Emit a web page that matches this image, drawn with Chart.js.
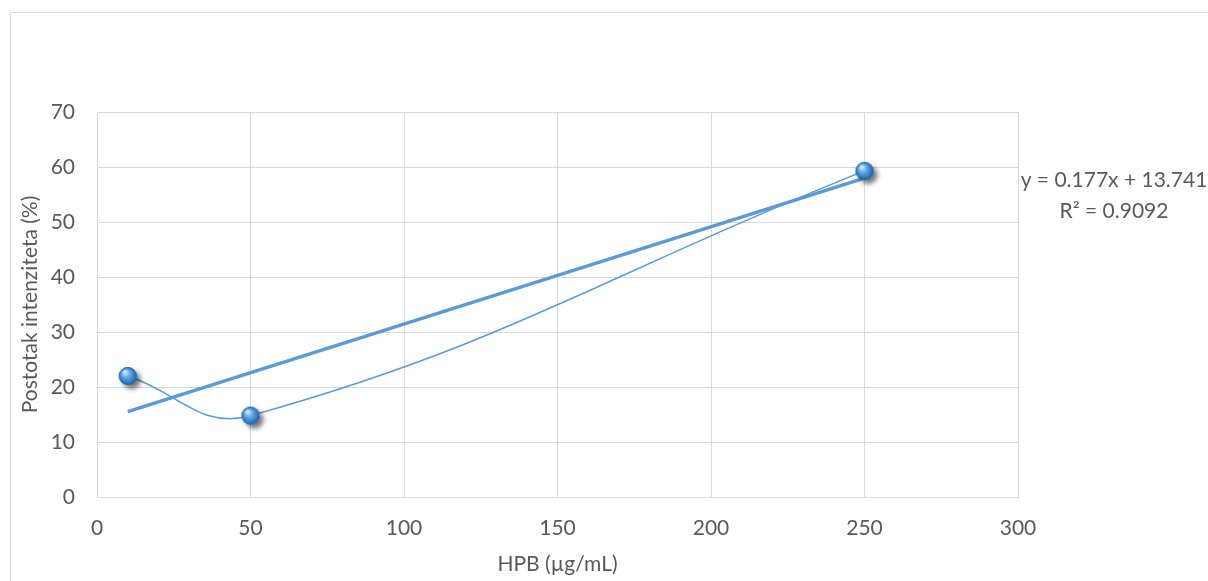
<!DOCTYPE html>
<html>
<head>
<meta charset="utf-8">
<script src="https://cdn.jsdelivr.net/npm/chart.js@4"></script>
<style>
  html, body { margin: 0; padding: 0; background: #fff; }
  #wrap { width: 1208px; height: 581px; position: relative; }
</style>
</head>
<body>
<div id="wrap"><canvas id="chart"></canvas></div>
<script>
// data
const doses = [10, 50, 250];          // HPB (µg/mL)
const intensity = [22, 14.8, 59.3];   // Postotak intenziteta (%)
const xTicks = [0, 50, 100, 150, 200, 250, 300];
const yTicks = [0, 10, 20, 30, 40, 50, 60, 70];

// linear trendline as printed on the chart
const slope = 0.177;
const intercept = 13.741;
const rSquared = 0.9092;
const trendX = [doses[0], doses[doses.length - 1]];

const blue = "#5B9BD5";
const textColor = "#595959";
const gridColor = "#D9D9D9";
const fontFamily = "Lato, 'Open Sans', sans-serif";

const seriesPoints = doses.map((x, i) => ({ x, y: intensity[i] }));
const trendPoints = trendX.map(x => ({ x, y: slope * x + intercept }));

// shaded sphere marker with a drop shadow
function makeMarker() {
  const c = document.createElement("canvas");
  c.width = 44; c.height = 44;
  const g = c.getContext("2d");
  const cx = 22, cy = 22, r = 9;
  g.save();
  g.shadowColor = "rgba(0,0,0,0.55)";
  g.shadowBlur = 5;
  g.shadowOffsetX = 4;
  g.shadowOffsetY = 4;
  g.beginPath();
  g.arc(cx, cy, r, 0, Math.PI * 2);
  g.fillStyle = "#2E75B6";
  g.fill();
  g.restore();
  const grad = g.createRadialGradient(cx - 3, cy - 4, 1, cx, cy, r);
  grad.addColorStop(0, "#CFE6FA");
  grad.addColorStop(0.35, "#6BAEE8");
  grad.addColorStop(0.8, "#2F7BC4");
  grad.addColorStop(1, "#1F5F9E");
  g.beginPath();
  g.arc(cx, cy, r, 0, Math.PI * 2);
  g.fillStyle = grad;
  g.fill();
  return c;
}
const marker = makeMarker();

const frame = {
  id: "frame",
  beforeDraw(chart) {
    const ctx = chart.ctx;
    ctx.save();
    ctx.fillStyle = "#fff";
    ctx.fillRect(0, 0, chart.width, chart.height);
    ctx.strokeStyle = gridColor;
    ctx.lineWidth = 1;
    ctx.strokeRect(10.5, 12.5, chart.width + 20, chart.height + 20);
    ctx.restore();
  }
};

const equation = {
  id: "equation",
  afterDatasetsDraw(chart) {
    const ctx = chart.ctx;
    const ys = chart.scales.y;
    const xPos = chart.chartArea.right + 96;
    const yPos = ys.getPixelForValue(trendPoints[1].y) + 2;
    ctx.save();
    ctx.fillStyle = textColor;
    ctx.font = "21px " + fontFamily;
    ctx.textAlign = "center";
    ctx.textBaseline = "middle";
    ctx.fillText("y = " + slope + "x + " + intercept, xPos, yPos);
    ctx.fillText("R² = " + rSquared, xPos, yPos + 31);
    ctx.restore();
  }
};

new Chart(document.getElementById("chart").getContext("2d"), {
  type: "scatter",
  data: {
    datasets: [
      {
        label: "points",
        data: seriesPoints,
        showLine: false,
        pointStyle: marker,
        order: 0
      },
      {
        label: "trend",
        data: trendPoints,
        showLine: true,
        borderColor: blue,
        borderWidth: 3.5,
        pointRadius: 0,
        order: 1
      },
      {
        label: "series",
        data: seriesPoints,
        showLine: true,
        borderColor: blue,
        borderWidth: 1.5,
        tension: 0.42,
        pointRadius: 0,
        order: 2
      }
    ]
  },
  options: {
    responsive: true,
    maintainAspectRatio: false,
    animation: false,
    layout: { padding: { left: 0, top: 112, right: 190, bottom: 0 } },
    plugins: {
      legend: { display: false },
      tooltip: { enabled: false }
    },
    scales: {
      x: {
        type: "linear",
        min: xTicks[0],
        max: xTicks[xTicks.length - 1],
        afterBuildTicks: s => { s.ticks = xTicks.map(v => ({ value: v })); },
        afterFit: s => { s.height = 84; },
        grid: { color: gridColor, drawTicks: false },
        border: { color: gridColor },
        ticks: { color: textColor, font: { family: fontFamily, size: 21 }, padding: 19 },
        title: {
          display: true,
          text: "HPB (µg/mL)",
          color: textColor,
          font: { family: fontFamily, size: 21 },
          padding: { top: 2 }
        }
      },
      y: {
        min: yTicks[0],
        max: yTicks[yTicks.length - 1],
        afterBuildTicks: s => { s.ticks = yTicks.map(v => ({ value: v })); },
        afterFit: s => { s.width = 97; },
        grid: { color: gridColor, drawTicks: false },
        border: { color: gridColor },
        ticks: { color: textColor, font: { family: fontFamily, size: 21 }, padding: 22 },
        title: {
          display: true,
          text: "Postotak intenziteta (%)",
          color: textColor,
          font: { family: fontFamily, size: 21 },
          padding: { top: 18, bottom: 4 }
        }
      }
    }
  },
  plugins: [frame, equation]
});
</script>
</body>
</html>
